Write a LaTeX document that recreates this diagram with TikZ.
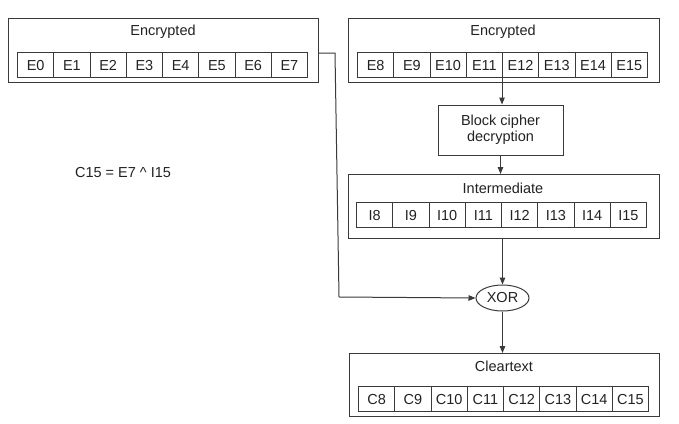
\documentclass[tikz,border=0pt]{standalone}
\usepackage{fontspec}
\setmainfont{Liberation Sans}
\usetikzlibrary{arrows.meta,shapes.geometric}
\definecolor{ln}{HTML}{3A3A3A}
\definecolor{tx}{HTML}{222222}
\begin{document}
\begin{tikzpicture}[x=1pt,y=-1pt,
  every node/.style={text=tx,font=\fontsize{14.5}{17}\selectfont},
  outerbox/.style={draw=ln,line width=1pt,anchor=north west,inner sep=0pt,minimum height=64pt},
  cellbox/.style={draw=ln,line width=1pt,anchor=north west,inner sep=0pt,minimum width=36.25pt,minimum height=25pt,text height=10.4pt,text depth=0pt},
  procbox/.style={draw=ln,line width=1pt,align=center,inner sep=0pt,minimum width=125pt,minimum height=50pt},
  xorbox/.style={draw=ln,line width=1pt,ellipse,inner sep=0pt,minimum width=53pt,minimum height=26pt},
  conn/.style={draw=ln,line width=1pt},
  arr/.style={conn,-{Triangle[length=7pt,width=5.5pt]}}]
\useasboundingbox (0,0) rectangle (679,423);
% left encrypted
\node[outerbox,minimum width=310pt] (encL) at (8,18) {};
\node (encLt) at (163,32) {Encrypted};
\foreach \i in {0,...,7}{
  \node[cellbox] (l\i) at ({17+36.25*\i},52) {E\i};
}
% right encrypted
\node[outerbox,minimum width=311pt] (encR) at (348,18) {};
\node (encRt) at (503,32) {Encrypted};
\foreach \i in {0,...,7}{
  \pgfmathtruncatemacro{\n}{\i+8}
  \node[cellbox] (r\i) at ({357+36.25*\i},52) {E\n};
}
% block cipher
\node[procbox] (blk) at (500.5,130) {Block cipher\\[-1pt]decryption};
% intermediate
\node[outerbox,minimum width=311pt] (inter) at (348,174) {};
\node (intert) at (503,188) {Intermediate};
\foreach \i in {0,...,7}{
  \pgfmathtruncatemacro{\n}{\i+8}
  \node[cellbox] (m\i) at ({356+36.25*\i},202) {I\n};
}
% xor
\node[xorbox] (xor) at (502.5,298) {XOR};
% cleartext
\node[outerbox,minimum width=310pt,minimum height=63pt] (clear) at (349,353) {};
\node (cleart) at (504,366) {Cleartext};
\foreach \i in {0,...,7}{
  \pgfmathtruncatemacro{\n}{\i+8}
  \node[cellbox] (c\i) at ({358+36.25*\i},386) {C\n};
}
% formula
\node (eq) at (123,173) {C15 = E7 \^{} I15};
% connectors
\coordinate (bend1) at (335,53);
\coordinate (bend2) at (339,297);
\draw[conn] (encL.east |- bend1) -- (bend1) -- (bend2);
\draw[arr] (bend2) -- (xor.west);
\draw[arr] (r4.south west) -- (blk.north -| r4.south west);
\draw[arr] (blk.south) -- (inter.north -| blk.south);
\draw[arr] (inter.south -| xor.north) -- (xor.north);
\draw[arr] (xor.south) -- (clear.north -| xor.south);
\end{tikzpicture}
\end{document}
